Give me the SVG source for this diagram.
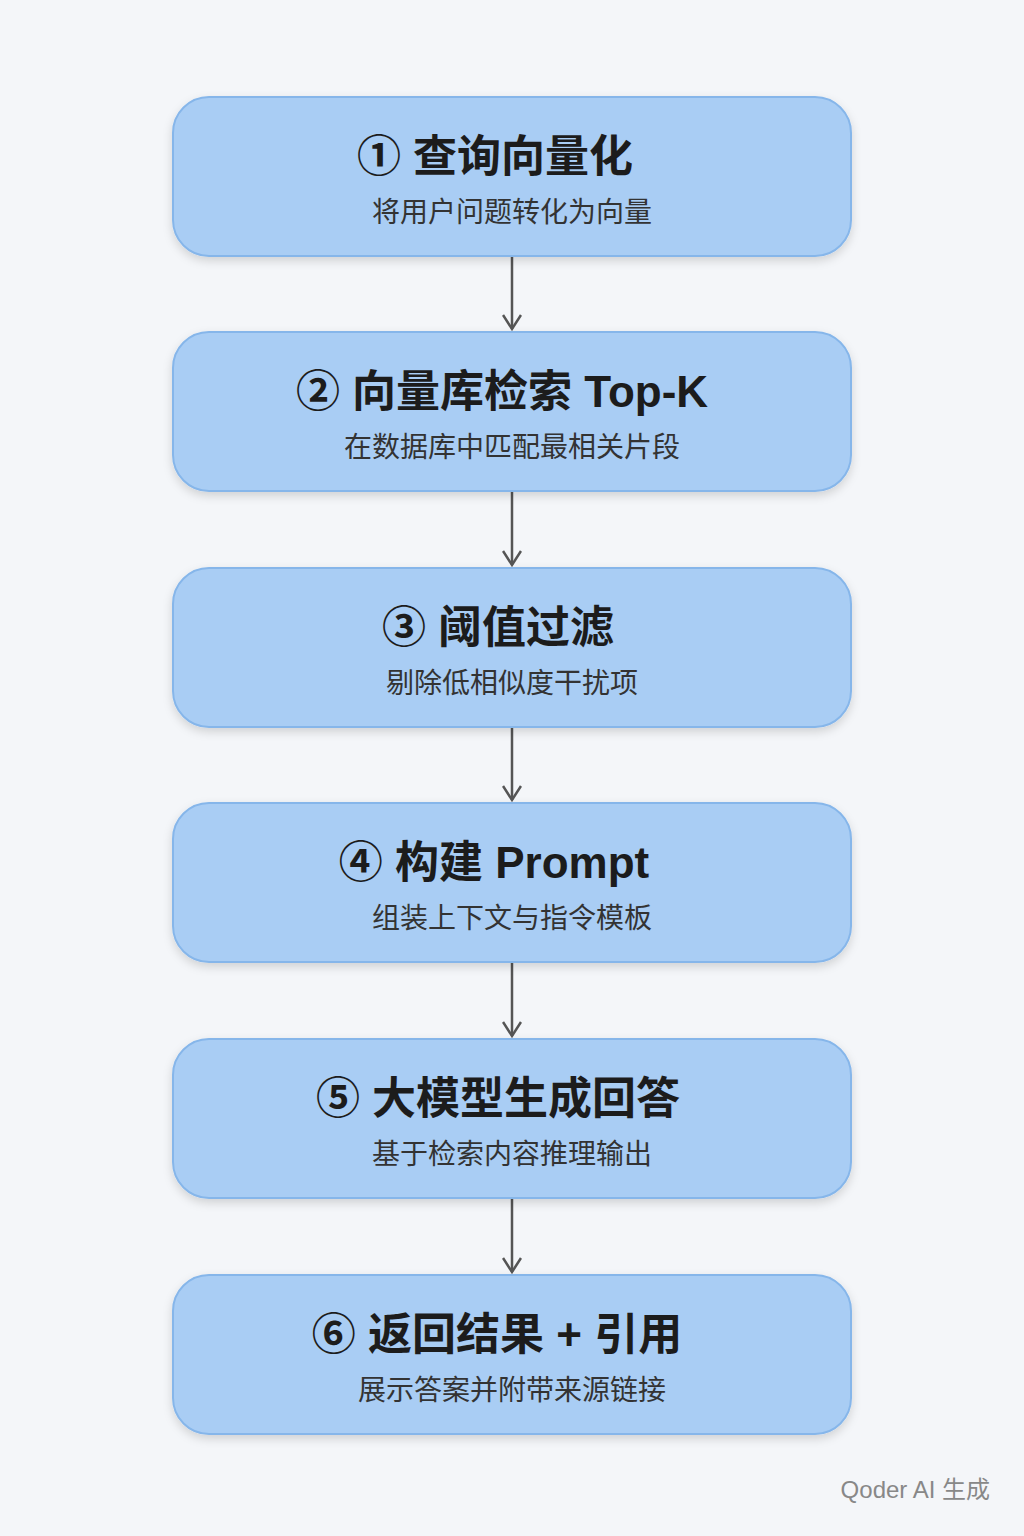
<svg xmlns="http://www.w3.org/2000/svg" width="1024" height="1536" viewBox="0 0 1024 1536">
<style>
.box{fill:#a9cdf4;stroke:#86b6ea;stroke-width:2}
.t{font-family:"Liberation Sans","Noto Sans CJK SC",sans-serif;font-size:44px;font-weight:bold;fill:#1c1c1c;text-anchor:middle}
.s{font-family:"Liberation Sans","Noto Sans CJK SC",sans-serif;font-size:28px;fill:#333;text-anchor:middle}
.c{stroke:#555;stroke-width:2.5;fill:none}
</style>
<defs>
<filter id="sh" x="-10%" y="-20%" width="120%" height="150%"><feDropShadow dx="0" dy="4" stdDeviation="5" flood-color="#000" flood-opacity="0.15"/></filter>
<marker id="a" viewBox="0 0 20 20" refX="16" refY="10" markerWidth="20" markerHeight="20" markerUnits="userSpaceOnUse" orient="auto"><path d="M2 1 L16 10 L2 19" fill="none" stroke="#555" stroke-width="2.5"/></marker>
</defs>
<rect width="1024" height="1536" fill="#f4f6f9"/>
<g id="connectors">
<path class="c" d="M512 257 V329" marker-end="url(#a)"/>
<path class="c" d="M512 492 V565" marker-end="url(#a)"/>
<path class="c" d="M512 728 V800" marker-end="url(#a)"/>
<path class="c" d="M512 963 V1036" marker-end="url(#a)"/>
<path class="c" d="M512 1199 V1272" marker-end="url(#a)"/>
</g>
<g id="n1"><rect class="box" filter="url(#sh)" x="173" y="97" width="678" height="159" rx="36"/><text class="t" x="495" y="172">① 查询向量化</text><text class="s" x="512" y="222">将用户问题转化为向量</text></g>
<g id="n2"><rect class="box" filter="url(#sh)" x="173" y="332" width="678" height="159" rx="36"/><text class="t" x="502" y="407">② 向量库检索 Top-K</text><text class="s" x="512" y="457">在数据库中匹配最相关片段</text></g>
<g id="n3"><rect class="box" filter="url(#sh)" x="173" y="568" width="678" height="159" rx="36"/><text class="t" x="498" y="643">③ 阈值过滤</text><text class="s" x="512" y="693">剔除低相似度干扰项</text></g>
<g id="n4"><rect class="box" filter="url(#sh)" x="173" y="803" width="678" height="159" rx="36"/><text class="t" x="494" y="878">④ 构建 Prompt</text><text class="s" x="512" y="928">组装上下文与指令模板</text></g>
<g id="n5"><rect class="box" filter="url(#sh)" x="173" y="1039" width="678" height="159" rx="36"/><text class="t" x="498" y="1114">⑤ 大模型生成回答</text><text class="s" x="512" y="1164">基于检索内容推理输出</text></g>
<g id="n6"><rect class="box" filter="url(#sh)" x="173" y="1275" width="678" height="159" rx="36"/><text class="t" x="497" y="1350">⑥ 返回结果 + 引用</text><text class="s" x="512" y="1400">展示答案并附带来源链接</text></g>
<text x="990" y="1498" font-family="Liberation Sans,'Noto Sans CJK SC',sans-serif" font-size="24" fill="#888" text-anchor="end">Qoder AI 生成</text>
</svg>
